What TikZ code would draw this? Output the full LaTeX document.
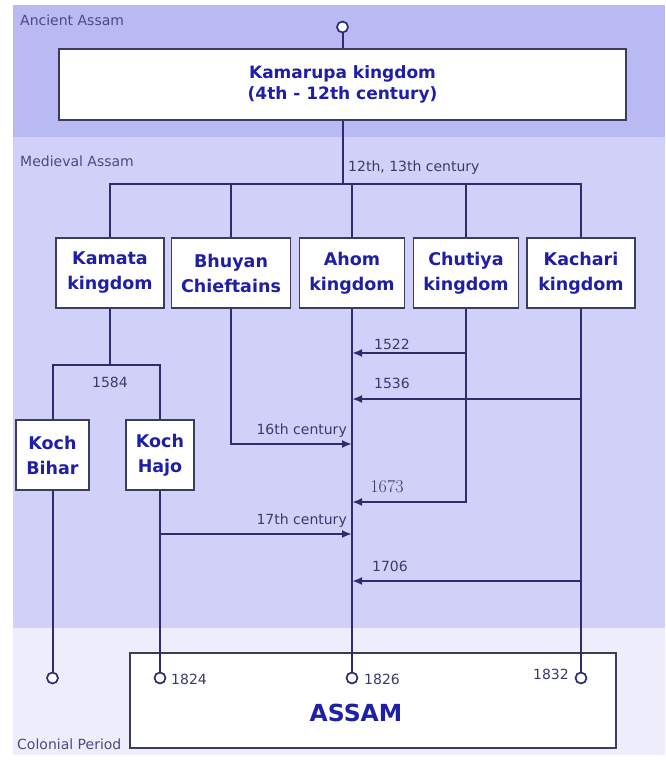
\documentclass[tikz,border=0pt]{standalone}
\usepackage{fontspec}
\setmainfont{DejaVu Sans}
\usetikzlibrary{arrows.meta}
\definecolor{bandA}{HTML}{B9B9F3}
\definecolor{bandM}{HTML}{D0D0F9}
\definecolor{bandC}{HTML}{EDEDFC}
\definecolor{linec}{HTML}{2C2C6E}
\definecolor{boxline}{HTML}{3C3C60}
\definecolor{boxtext}{HTML}{1E1EA8}
\definecolor{labtext}{HTML}{3A3A6E}
\definecolor{bandtext}{HTML}{4A4A86}
\tikzset{
  kbox/.style={draw=boxline, line width=1.8pt, fill=white, inner sep=0pt, align=center,
    text=boxtext, font=\fontsize{17.5}{25}\selectfont\bfseries},
  conn/.style={draw=linec, line width=2pt},
  arr/.style={conn, -{Latex[length=10pt,width=8pt]}},
  endc/.style={circle, draw=linec, line width=1.7pt, fill=white, minimum size=11pt, inner sep=0pt},
  lab/.style={text=labtext, font=\fontsize{14}{16}\selectfont, inner sep=0pt},
  bandlab/.style={text=bandtext, font=\fontsize{14}{16}\selectfont, inner sep=0pt, anchor=west},
}
\begin{document}
\begin{tikzpicture}[x=1pt,y=-1pt]
\useasboundingbox (0,0) rectangle (665,760);
% bands
\fill[bandA] (13,5) rectangle (665,137);
\fill[bandM] (13,137) rectangle (665,628);
\fill[bandC] (13,628) rectangle (665,755);
\node[bandlab] (tA) at (20,20) {Ancient Assam};
\node[bandlab] (tM) at (20,161) {Medieval Assam};
\node[bandlab] (tC) at (17,744) {Colonial Period};

% boxes
\node[kbox, minimum width=567pt, minimum height=71pt, font=\fontsize{17}{21.5}\selectfont\bfseries] (kam) at (342.5,84.5) {Kamarupa kingdom\\(4th - 12th century)};
\node[kbox, minimum width=108pt, minimum height=70pt] (kamata) at (110,273) {Kamata\\kingdom};
\node[kbox, minimum width=119pt, minimum height=70pt] (bhuyan) at (231,273) {Bhuyan\\Chieftains};
\node[kbox, minimum width=105pt, minimum height=70pt] (ahom) at (352,273) {Ahom\\kingdom};
\node[kbox, minimum width=105pt, minimum height=70pt] (chutiya) at (466,273) {Chutiya\\kingdom};
\node[kbox, minimum width=108pt, minimum height=70pt] (kachari) at (581,273) {Kachari\\kingdom};
\node[kbox, minimum width=73pt, minimum height=70pt] (bihar) at (52.5,455) {Koch\\Bihar};
\node[kbox, minimum width=68pt, minimum height=70pt] (hajo) at (160,455) {Koch\\Hajo};
\node[kbox, minimum width=486pt, minimum height=95pt] (assam) at (373,700.5) {};
\node[text=boxtext, font=\fontsize{23.5}{26}\selectfont\bfseries, inner sep=0pt] (assamt) at (356,713) {ASSAM};

% coordinates
\coordinate (split) at (342.5,184);
\coordinate (ksplit) at (110,365);
\coordinate (y1522) at (0,353);
\coordinate (y1536) at (0,399);
\coordinate (y16) at (0,444);
\coordinate (y1673) at (0,502);
\coordinate (y17) at (0,534);
\coordinate (y1706) at (0,581);

% end circles
\node[endc] (top) at (342.5,27) {};
\node[endc] (ebihar) at (52.5,678) {};
\node[endc] (ehajo) at (160,678) {};
\node[endc] (eahom) at (352,678) {};
\node[endc] (ekachari) at (581,678) {};

% connectors
\draw[conn] (top) -- (kam);
\draw[conn] (kam.south) -- (split);
\draw[conn] (kamata.north) |- (split) -| (kachari.north);
\draw[conn] (bhuyan.north) -- (bhuyan.north |- split);
\draw[conn] (ahom.north) -- (ahom.north |- split);
\draw[conn] (chutiya.north) -- (chutiya.north |- split);
\draw[conn] (kamata.south) -- (ksplit);
\draw[conn] (bihar.north) |- (ksplit) -| (hajo.north);
\draw[conn] (bihar) -- (ebihar);
\draw[conn] (hajo) -- (ehajo);
\draw[conn] (ahom) -- (eahom);
\draw[conn] (kachari) -- (ekachari);
\draw[arr] (chutiya.south |- y1522) -- (ahom.south |- y1522);
\draw[arr] (kachari.south |- y1536) -- (ahom.south |- y1536);
\draw[arr] (bhuyan.south) |- (ahom.south |- y16);
\draw[arr] (chutiya.south) |- (ahom.south |- y1673);
\draw[arr] (hajo.south |- y17) -- (ahom.south |- y17);
\draw[arr] (kachari.south |- y1706) -- (ahom.south |- y1706);

% labels
\node[lab, anchor=west] (l1213) at (348,168) {12th, 13th century};
\node[lab] (l1584) at (110,382) {1584};
\node[lab] (l1522) at (392,344) {1522};
\node[lab] (l1536) at (392,383) {1536};
\node[lab, anchor=east] (l16) at (347,431) {16th century};
\node[lab, font=\fontsize{18}{20}\selectfont\rmfamily] (l1673) at (387,487) {\fontspec{Latin Modern Roman}1673};
\node[lab, anchor=east] (l17) at (347,521) {17th century};
\node[lab] (l1706) at (390,566) {1706};
\node[lab, anchor=west] (l1824) at (171,679) {1824};
\node[lab, anchor=west] (l1826) at (364,679) {1826};
\node[lab, anchor=east] (l1832) at (569,674) {1832};
\end{tikzpicture}
\end{document}
